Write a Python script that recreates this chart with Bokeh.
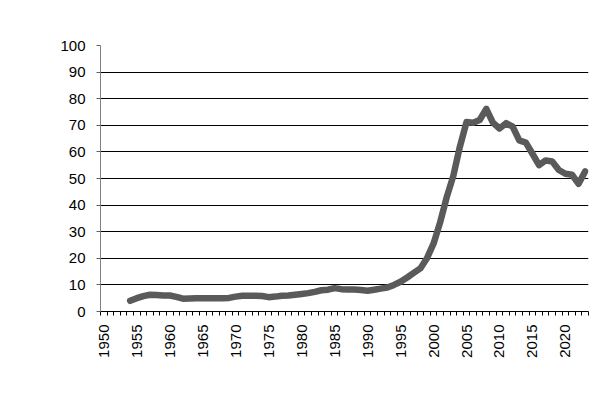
from bokeh.plotting import figure
from bokeh.models import Range1d, FixedTicker
from bokeh.embed import file_html
from bokeh.resources import INLINE
import math

years = list(range(1954, 2024))
values = [4.0, 5.0, 5.8, 6.3, 6.2, 6.0, 6.0, 5.5, 4.8, 4.9, 5.0, 5.0, 5.0, 5.0, 5.0, 5.1,
          5.6, 5.9, 5.9, 5.9, 5.8, 5.4, 5.6, 5.9, 6.0, 6.3, 6.6, 6.9, 7.4, 8.0, 8.2, 8.8,
          8.4, 8.3, 8.3, 8.1, 7.8, 8.2, 8.6, 9.0, 10.0, 11.2, 12.8, 14.5, 16.2, 20.0,
          25.5, 33.5, 43.0, 51.0, 62.0, 71.2, 71.0, 72.0, 76.2, 71.0, 68.8, 70.8, 69.5,
          64.3, 63.5, 59.3, 55.0, 56.8, 56.4, 53.2, 51.8, 51.4, 48.0, 52.7]
y_ticks = list(range(0, 101, 10))
x_label_years = list(range(1950, 2021, 5))

p = figure(width=608, height=387, output_backend="svg", toolbar_location=None,
           x_range=Range1d(1949.5, 2023.5), y_range=Range1d(0, 100),
           min_border_left=100, min_border_right=20, min_border_top=45, min_border_bottom=76)
p.outline_line_color = None
p.background_fill_color = "white"
p.border_fill_color = "white"

p.line(years, values, line_color="#5a5a5a", line_width=6.5, line_join="round", line_cap="round")

p.xgrid.visible = False
p.ygrid.ticker = FixedTicker(ticks=y_ticks[1:-1])
p.ygrid.grid_line_color = "black"
p.ygrid.grid_line_width = 1

xa = p.xaxis[0]
xa.ticker = FixedTicker(ticks=x_label_years, minor_ticks=[y + 0.5 for y in range(1949, 2024)])
xa.major_tick_line_color = None
xa.major_tick_out = 4
xa.major_tick_in = 0
xa.minor_tick_out = 4
xa.minor_tick_in = 0
xa.minor_tick_line_color = "black"
xa.axis_line_color = "black"
xa.major_label_orientation = math.pi / 2
xa.major_label_text_font = "Liberation Sans"
xa.major_label_text_font_size = "15px"
xa.major_label_text_color = "black"
xa.major_label_standoff = 9

ya = p.yaxis[0]
ya.ticker = FixedTicker(ticks=y_ticks)
ya.axis_line_color = "#808080"
ya.major_tick_line_color = "#606060"
ya.major_tick_out = 4
ya.major_tick_in = 0
ya.minor_tick_line_color = None
ya.major_label_text_font = "Liberation Sans"
ya.major_label_text_font_size = "15px"
ya.major_label_text_color = "black"
ya.major_label_standoff = 11

open("out.html", "w").write(file_html(p, INLINE))
